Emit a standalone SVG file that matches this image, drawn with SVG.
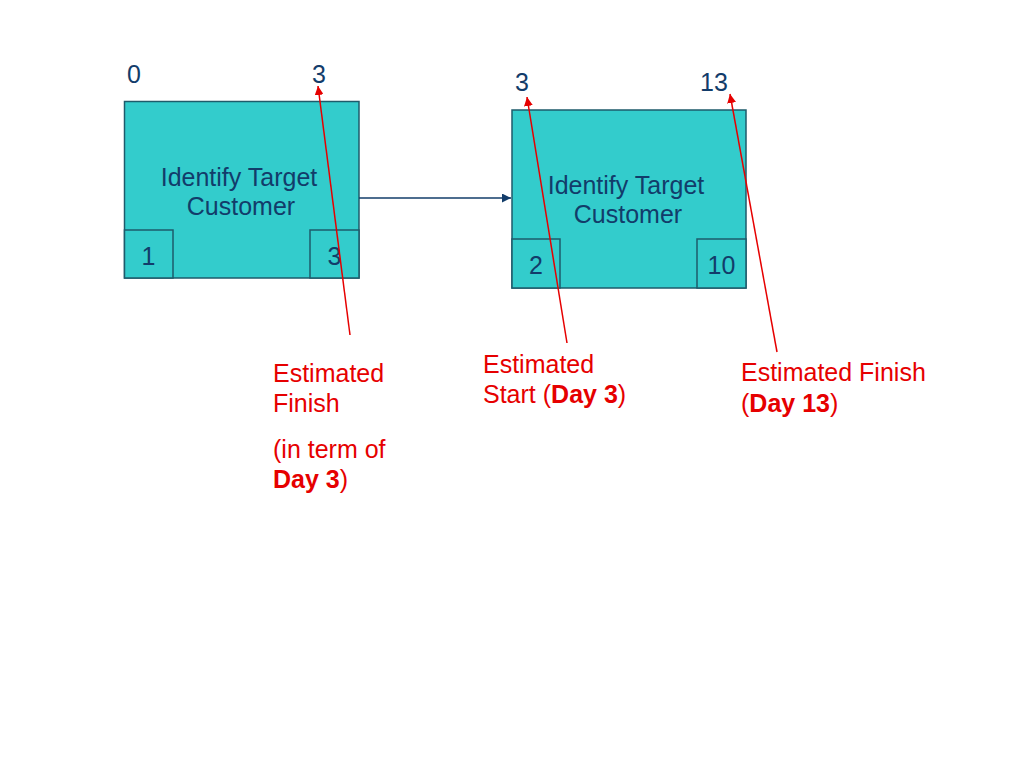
<svg xmlns="http://www.w3.org/2000/svg" width="1024" height="768" viewBox="0 0 1024 768">
<defs>
<style>
.box{fill:#33CCCC;stroke:#1E5B6B;stroke-width:1.5}
.t{font-family:"Liberation Sans",Arial,sans-serif;font-size:25px;fill:#123C6A}
.r{font-family:"Liberation Sans",Arial,sans-serif;font-size:25px;fill:#E60000}
.b{font-weight:bold}
.link{stroke:#123C6A;stroke-width:1.5;fill:none}
.red{stroke:#E60000;stroke-width:1.5;fill:none}
</style>
<marker id="ah" viewBox="0 0 10 10" refX="10" refY="5" markerWidth="6" markerHeight="6" orient="auto"><path d="M0,0 L10,5 L0,10 z" fill="#123C6A"/></marker>
<marker id="rh" viewBox="0 0 10 10" refX="10" refY="5" markerWidth="6" markerHeight="6" orient="auto"><path d="M0,0 L10,5 L0,10 z" fill="#E60000"/></marker>
</defs>
<rect width="1024" height="768" fill="#FFFFFF"/>
<g id="node1">
<rect class="box" x="124.5" y="101.5" width="234.5" height="176.5"/>
<rect class="box" x="124.5" y="230" width="48.5" height="48"/>
<rect class="box" x="310" y="230" width="49" height="48"/>
<text class="t" x="239" y="186" text-anchor="middle">Identify Target</text>
<text class="t" x="241" y="215" text-anchor="middle">Customer</text>
<text class="t" x="148.5" y="265" text-anchor="middle">1</text>
<text class="t" x="334.5" y="265" text-anchor="middle">3</text>
<text class="t" x="127" y="83">0</text>
<text class="t" x="312" y="83">3</text>
</g>
<g id="node2">
<rect class="box" x="512" y="110" width="234" height="178"/>
<rect class="box" x="512" y="239" width="48" height="49"/>
<rect class="box" x="697" y="239" width="49" height="49"/>
<text class="t" x="626" y="194" text-anchor="middle">Identify Target</text>
<text class="t" x="628" y="223" text-anchor="middle">Customer</text>
<text class="t" x="536" y="274" text-anchor="middle">2</text>
<text class="t" x="721.5" y="274" text-anchor="middle">10</text>
<text class="t" x="515" y="91">3</text>
<text class="t" x="700" y="91">13</text>
</g>
<g id="label1">
<text class="r" x="273" y="382">Estimated</text>
<text class="r" x="273" y="412">Finish</text>
<text class="r" x="273" y="458">(in term of</text>
<text class="r" x="273" y="488"><tspan class="b">Day 3</tspan>)</text>
</g>
<g id="label2">
<text class="r" x="483" y="373">Estimated</text>
<text class="r" x="483" y="403">Start (<tspan class="b">Day 3</tspan>)</text>
</g>
<g id="label3">
<text class="r" x="741" y="381">Estimated Finish</text>
<text class="r" x="741" y="412">(<tspan class="b">Day 13</tspan>)</text>
</g>
<g id="connectors">
<line class="link" x1="359" y1="198" x2="511" y2="198" marker-end="url(#ah)"/>
<line class="red" x1="350" y1="335" x2="318" y2="86" marker-end="url(#rh)"/>
<line class="red" x1="567" y1="343" x2="527" y2="97" marker-end="url(#rh)"/>
<line class="red" x1="777" y1="352" x2="730" y2="94" marker-end="url(#rh)"/>
</g>
</svg>
